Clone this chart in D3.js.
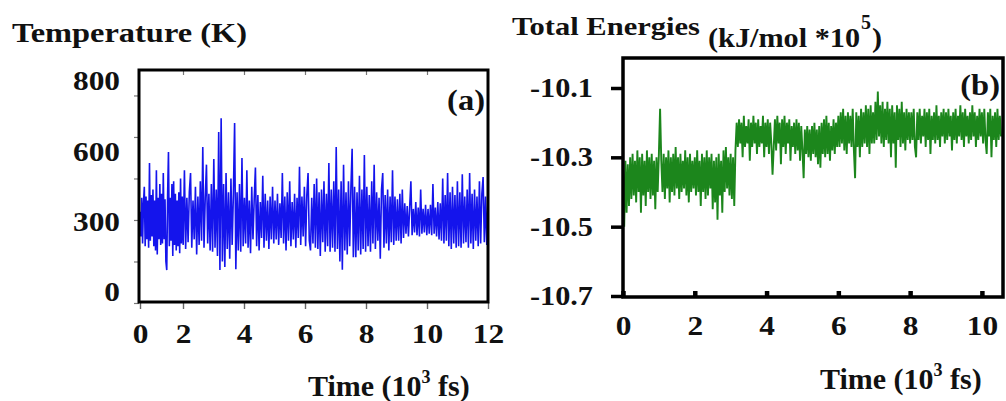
<!DOCTYPE html>
<html><head><meta charset="utf-8">
<script src="https://cdn.jsdelivr.net/npm/d3@7"></script>
<style>
body{margin:0;background:#fff;}
svg{display:block;}
text{font-family:"Liberation Serif","Times New Roman",serif;font-weight:bold;fill:#111;}
</style></head><body>
<svg id="c" width="1006" height="401"></svg>
<script>
// ---------- data ----------
const tempTimeRange = [0, 12];
const tempValues = [
330,240,380,215,360,420,205,385,230,370,200,506,225,390,240,410,205,370,190,480,175,380,230,430,210,
395,215,470,230,375,150,119,390,546,205,380,225,430,170,440,210,395,190,370,205,400,180,450,215,385,
210,480,195,380,220,400,470,200,370,230,420,175,385,210,440,225,564,200,380,500,215,395,190,430,185,
520,200,410,170,618,119,668,150,430,130,470,195,400,160,450,210,395,650,122,400,190,430,185,524,205,
380,215,480,200,370,180,420,230,375,490,205,390,190,365,235,460,200,395,225,370,195,385,230,420,215,
370,230,395,210,360,235,470,215,385,190,400,225,440,205,365,230,395,200,380,235,492,210,385,240,420,
205,390,470,225,190,380,215,430,200,450,195,400,170,410,220,440,185,395,205,506,185,410,200,440,185,
564,195,410,150,440,120,500,190,400,175,440,205,415,557,165,420,165,400,190,460,175,410,195,535,185,
420,205,390,185,440,215,500,195,400,225,380,160,410,470,200,390,215,410,190,385,220,480,210,385,225,
375,225,395,215,410,235,360,250,350,240,345,440,245,340,255,365,245,345,240,410,250,340,255,355,245,
340,250,355,245,430,250,345,240,365,230,360,225,450,215,390,225,470,205,400,195,420,215,390,200,440,
205,400,200,465,215,385,220,410,200,470,215,395,195,410,225,385,205,440,215,395,455,220,385,210,380
];
const energyTimeStep = 1 / 30;
const energyValues = [
-10.33,-10.50,-10.31,-10.46,-10.32,-10.44,-10.30,-10.42,-10.29,-10.41,-10.31,-10.43,-10.28,-10.40,-10.30,-10.46,-10.29,-10.41,-10.31,-10.44,-10.28,-10.40,-10.30,-10.42,-10.29,-10.41,-10.31,-10.45,-10.30,-10.40,
-10.29,-10.16,-10.31,-10.40,-10.29,-10.42,-10.30,-10.39,-10.28,-10.43,-10.30,-10.40,-10.29,-10.41,-10.27,-10.39,-10.30,-10.42,-10.29,-10.40,-10.31,-10.39,-10.28,-10.41,-10.30,-10.43,-10.29,-10.40,-10.31,-10.39,
-10.30,-10.41,-10.28,-10.40,-10.31,-10.44,-10.29,-10.40,-10.30,-10.42,-10.28,-10.41,-10.30,-10.39,-10.29,-10.45,-10.31,-10.43,-10.30,-10.48,-10.29,-10.41,-10.31,-10.46,-10.28,-10.40,-10.27,-10.39,-10.30,-10.41,
-10.29,-10.42,-10.30,-10.44,-10.28,-10.20,-10.27,-10.19,-10.26,-10.20,-10.30,-10.18,-10.27,-10.21,-10.26,-10.19,-10.31,-10.20,-10.27,-10.18,-10.26,-10.20,-10.29,-10.19,-10.27,-10.21,-10.26,-10.18,-10.30,-10.20,
-10.27,-10.19,-10.29,-10.20,-10.26,-10.35,-10.27,-10.19,-10.28,-10.18,-10.26,-10.20,-10.32,-10.19,-10.27,-10.18,-10.29,-10.20,-10.26,-10.19,-10.31,-10.21,-10.27,-10.20,-10.29,-10.19,-10.28,-10.20,-10.31,-10.21,
-10.28,-10.36,-10.22,-10.29,-10.21,-10.30,-10.22,-10.31,-10.21,-10.29,-10.20,-10.30,-10.22,-10.32,-10.21,-10.33,-10.20,-10.29,-10.19,-10.30,-10.18,-10.29,-10.20,-10.31,-10.21,-10.28,-10.19,-10.29,-10.20,-10.27,
-10.18,-10.27,-10.17,-10.26,-10.16,-10.28,-10.18,-10.29,-10.17,-10.26,-10.18,-10.27,-10.16,-10.28,-10.36,-10.17,-10.27,-10.18,-10.30,-10.16,-10.27,-10.17,-10.26,-10.15,-10.27,-10.16,-10.29,-10.15,-10.26,-10.17,
-10.26,-10.14,-10.25,-10.11,-10.24,-10.15,-10.26,-10.14,-10.27,-10.16,-10.25,-10.14,-10.26,-10.16,-10.30,-10.15,-10.26,-10.17,-10.33,-10.15,-10.25,-10.16,-10.27,-10.14,-10.26,-10.17,-10.28,-10.16,-10.25,-10.17,
-10.26,-10.17,-10.25,-10.16,-10.27,-10.30,-10.17,-10.25,-10.16,-10.26,-10.18,-10.24,-10.16,-10.27,-10.17,-10.25,-10.16,-10.29,-10.18,-10.25,-10.17,-10.26,-10.15,-10.25,-10.18,-10.27,-10.17,-10.24,-10.16,-10.26,
-10.17,-10.25,-10.16,-10.24,-10.18,-10.28,-10.17,-10.25,-10.16,-10.26,-10.18,-10.24,-10.15,-10.25,-10.17,-10.27,-10.16,-10.24,-10.18,-10.26,-10.17,-10.25,-10.15,-10.24,-10.17,-10.27,-10.18,-10.25,-10.16,-10.24,
-10.17,-10.26,-10.16,-10.25,-10.29,-10.17,-10.24,-10.16,-10.30,-10.18,-10.25,-10.17,-10.27,-10.16,-10.25,-10.18,-10.24
];
const tempTicksX = [0, 2, 4, 6, 8, 10, 12];
const tempTickMarksY = [0, 150, 300, 450, 600, 750];
const tempTickLabelsY = ["800", "600", "300", "0"];
const energyTicksX = [0, 2, 4, 6, 8, 10];
const energyTicksY = [-10.1, -10.3, -10.5, -10.7];

// ---------- drawing ----------
const svg = d3.select("#c");
const STRETCH = 1.12;
function stretch(sel) {
  sel.each(function () {
    const w = this.getComputedTextLength();
    this.setAttribute("textLength", w * STRETCH);
    this.setAttribute("lengthAdjust", "spacingAndGlyphs");
  });
}

// ===== Panel (a) =====
const aL = 139, aR = 488, aT = 70, aB = 302;
const xT = d3.scaleLinear().domain([0, 2, 12]).range([140, 183, 488]);
const yT = d3.scaleLinear().domain([0, 842]).range([303, aT]);
const yTLab = d3.scalePoint().domain(tempTickLabelsY).range([81, 292]);

svg.append("clipPath").attr("id", "clipA").append("rect")
  .attr("x", aL).attr("y", aT).attr("width", aR - aL).attr("height", aB - aT);

const tempData = tempValues.map((v, i) => ({t: tempTimeRange[0] + i * (tempTimeRange[1] - tempTimeRange[0]) / (tempValues.length - 1), v}));
svg.append("path").datum(tempData)
  .attr("clip-path", "url(#clipA)")
  .attr("fill", "none").attr("stroke", "#1414ec").attr("stroke-width", 1.6)
  .attr("stroke-linejoin", "bevel")
  .attr("d", d3.line().x(d => xT(d.t)).y(d => yT(d.v)));

const gaY = svg.append("g").attr("transform", `translate(${aL},0)`)
  .call(d3.axisLeft(yT).tickValues(tempTickMarksY).tickSize(5).tickFormat(""));
gaY.select(".domain").remove();
gaY.selectAll("line").attr("stroke", "#777").attr("stroke-width", 1.2);

const gaYL = svg.append("g").attr("transform", `translate(${aL},0)`)
  .call(d3.axisLeft(yTLab).tickSize(0).tickPadding(19));
gaYL.select(".domain").remove();
gaYL.selectAll("text").style("font-size", "28px").attr("fill", "#111").call(stretch);

const gaX = svg.append("g").attr("transform", `translate(0,${aB})`)
  .call(d3.axisBottom(xT).tickValues(tempTicksX).tickSize(7).tickFormat(d3.format("d")));
gaX.select(".domain").remove();
gaX.selectAll("line").attr("stroke", "#666").attr("stroke-width", 1.4);
gaX.selectAll("text").style("font-size", "28px").attr("fill", "#111")
  .attr("y", 41).attr("dy", null).call(stretch);

const gaXt = svg.append("g").attr("transform", `translate(0,${aT})`)
  .call(d3.axisTop(xT).tickValues(tempTicksX.slice(1, -1)).tickSize(-5).tickFormat(""));
gaXt.select(".domain").remove();
gaXt.selectAll("line").attr("stroke", "#777").attr("stroke-width", 1.2);

svg.append("rect").attr("x", aL).attr("y", aT).attr("width", aR - aL).attr("height", aB - aT)
  .attr("fill", "none").attr("stroke", "#000").attr("stroke-width", 3);

svg.append("text").attr("x", 485).attr("y", 110).attr("text-anchor", "end")
  .style("font-size", "29px").text("(a)").call(stretch);
svg.append("text").attr("x", 12).attr("y", 42).style("font-size", "27px")
  .attr("textLength", 235).attr("lengthAdjust", "spacingAndGlyphs").text("Temperature (K)");

const tA = svg.append("text").attr("x", 308).attr("y", 396).style("font-size", "30px");
tA.append("tspan").text("Time (10");
tA.append("tspan").attr("dy", -13).style("font-size", "18px").text("3");
tA.append("tspan").attr("dy", 13).text(" fs)");

// ===== Panel (b) =====
const bL = 623, bR = 1003, bT = 58, bB = 297;
const xE = d3.scaleLinear().domain([0, 10.56]).range([bL, 1002]);
const yE = d3.scaleLinear().domain([-10.1, -10.7]).range([88, 296]);

svg.append("clipPath").attr("id", "clipB").append("rect")
  .attr("x", bL).attr("y", bT).attr("width", bR - bL).attr("height", bB - bT);

const energyData = energyValues.map((v, i) => ({t: i * energyTimeStep, v}));
svg.append("path").datum(energyData)
  .attr("clip-path", "url(#clipB)")
  .attr("fill", "none").attr("stroke", "#1c861c").attr("stroke-width", 1.9)
  .attr("stroke-linejoin", "bevel")
  .attr("d", d3.line().x(d => xE(d.t)).y(d => yE(d.v)));

const gbY = svg.append("g").attr("transform", `translate(${bL},0)`)
  .call(d3.axisLeft(yE).tickValues(energyTicksY).tickSize(12).tickPadding(18).tickFormat(d => d.toFixed(1)));
gbY.select(".domain").remove();
gbY.selectAll("line").attr("stroke", "#000").attr("stroke-width", 3.5);
gbY.selectAll("text").style("font-size", "27px").attr("fill", "#111").call(stretch);

const gbX = svg.append("g").attr("transform", `translate(0,${bB})`)
  .call(d3.axisBottom(xE).tickValues(energyTicksX).tickSize(-6).tickFormat(d3.format("d")));
gbX.select(".domain").remove();
gbX.selectAll("line").attr("stroke", "#000").attr("stroke-width", 4.5);
gbX.selectAll("text").style("font-size", "28px").attr("fill", "#111")
  .attr("y", 38).attr("dy", null).call(stretch);

svg.append("rect").attr("x", bL).attr("y", bT).attr("width", bR - bL).attr("height", bB - bT)
  .attr("fill", "none").attr("stroke", "#000").attr("stroke-width", 3.5);

svg.append("text").attr("x", 1000).attr("y", 95).attr("text-anchor", "end")
  .style("font-size", "29px").text("(b)").call(stretch);
svg.append("text").attr("x", 512).attr("y", 35).style("font-size", "26px")
  .attr("textLength", 188).attr("lengthAdjust", "spacingAndGlyphs").text("Total Energies");

// units: main run, superscript, closing paren placed one after another
const uMain = svg.append("text").attr("x", 708).attr("y", 47).style("font-size", "27px")
  .text("(kJ/mol *10").call(stretch);
const uEnd = 708 + uMain.node().getComputedTextLength() * 0 + (+uMain.attr("textLength"));
const uSup = svg.append("text").attr("x", uEnd + 1).attr("y", 29).style("font-size", "20px").text("5");
svg.append("text").attr("x", uEnd + 12).attr("y", 47).style("font-size", "27px").text(")").call(stretch);

const tB = svg.append("text").attr("x", 820).attr("y", 389).style("font-size", "30px");
tB.append("tspan").text("Time (10");
tB.append("tspan").attr("dy", -13).style("font-size", "18px").text("3");
tB.append("tspan").attr("dy", 13).text(" fs)");
</script>
</body></html>
